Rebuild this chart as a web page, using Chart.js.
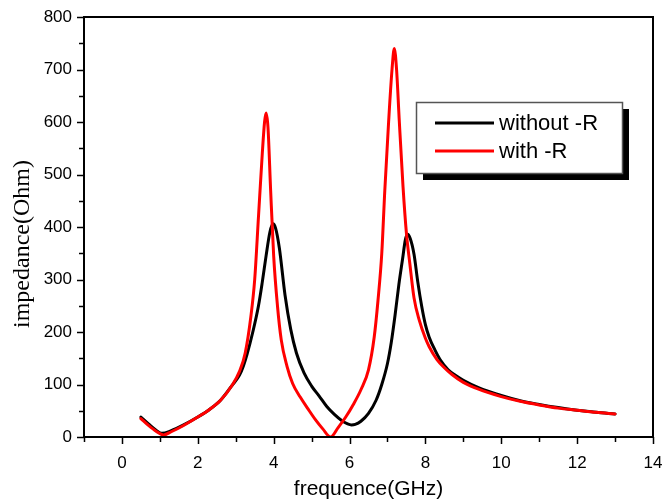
<!DOCTYPE html>
<html>
<head>
<meta charset="utf-8">
<script src="https://cdn.jsdelivr.net/npm/chart.js@4.4.1/dist/chart.umd.min.js"></script>
<style>
  html, body { margin: 0; padding: 0; background: #fff; }
  #wrap { width: 663px; height: 504px; }
</style>
</head>
<body>
<div id="wrap"><canvas id="c" width="663" height="504"></canvas></div>
<script>
// Impedance vs. frequency, two circuit variants
const seriesNames = ['without -R', 'with -R'];
const xTitle = 'frequence(GHz)';
const yTitle = 'impedance(Ohm)';

const freqWithout = [0.5, 0.7, 0.9, 1.05, 1.3, 1.6, 2.0, 2.3, 2.6, 2.9, 3.1, 3.2, 3.3, 3.45, 3.6, 3.7, 3.8, 3.9, 3.98,
  4.05, 4.15, 4.3, 4.45, 4.6, 4.8, 5.0, 5.2, 5.4, 5.6, 5.8, 5.95, 6.05, 6.15, 6.3, 6.5, 6.7, 6.85, 7.0, 7.1, 7.2,
  7.3, 7.4, 7.47, 7.53, 7.6, 7.7, 7.8, 7.9, 8.0, 8.1, 8.25, 8.4, 8.6, 8.8, 9.0, 9.4, 10.0, 10.5, 11.0, 11.5, 12.0,
  12.5, 13.0];
const impWithout = [38, 25, 13, 7, 12, 22, 38, 52, 70, 98, 118, 135, 158, 200, 250, 295, 345, 390, 406,
  398, 360, 270, 205, 160, 122, 97, 78, 58, 43, 31, 25, 23, 24, 30, 45, 70, 100, 140, 180, 232,
  290, 340, 375, 386, 378, 348, 295, 250, 214, 190, 166, 146, 128, 117, 108, 94, 79, 69, 62, 56, 51,
  47, 44];

const freqWith = [0.5, 0.7, 0.9, 1.1, 1.3, 1.6, 2.0, 2.3, 2.6, 2.9, 3.1, 3.25, 3.4, 3.5, 3.6, 3.7, 3.76, 3.8,
  3.85, 3.92, 4.0, 4.1, 4.2, 4.35, 4.5, 4.7, 4.9, 5.1, 5.3, 5.5, 5.7, 5.9, 6.1, 6.3, 6.5, 6.65, 6.75, 6.85,
  6.93, 7.03, 7.12, 7.18, 7.24, 7.31, 7.41, 7.5, 7.59, 7.7, 7.84, 8.0, 8.1, 8.3, 8.5, 8.7, 9.0, 9.4, 10.0,
  10.5, 11.0, 11.5, 12.0, 12.5, 13.0];
const impWith = [35, 22, 11, 4, 10, 21, 38, 52, 70, 98, 125, 160, 230, 300, 420, 540, 600, 617,
  590, 470, 345, 250, 185, 135, 102, 76, 54, 33, 15, 0, 18, 38, 62, 90, 128, 190, 260, 350,
  470, 600, 700, 740, 700, 604, 477, 388, 330, 265, 222, 188, 172, 148, 132, 119, 104, 91, 77,
  68, 61, 55, 51, 47, 44];

const xTickValues = [-1, 0, 1, 2, 3, 4, 5, 6, 7, 8, 9, 10, 11, 12, 13, 14];
const xTickLabels = ['', '0', '', '2', '', '4', '', '6', '', '8', '', '10', '', '12', '', '14'];
const yTickValues = [0, 50, 100, 150, 200, 250, 300, 350, 400, 450, 500, 550, 600, 650, 700, 750, 800];
const yTickLabels = ['0', '', '100', '', '200', '', '300', '', '400', '', '500', '', '600', '', '700', '', '800'];

const lineColors = ['#000000', '#ff0000'];
const sans = "'Liberation Sans', Arial, sans-serif";
const serif = "'Liberation Serif', 'Times New Roman', serif";

function toPoints(xs, ys) {
  return xs.map((x, i) => ({ x: x, y: ys[i] }));
}

// Frame, outward major/minor tick marks, the vertical axis title and the boxed legend
const framePlugin = {
  id: 'frame',
  afterDatasetsDraw(chart) {
    const ctx = chart.ctx;
    const a = chart.chartArea;
    const xs = chart.scales.x, ys = chart.scales.y;
    ctx.save();
    ctx.strokeStyle = '#000';
    ctx.lineWidth = 2;
    ctx.strokeRect(a.left, a.top, a.right - a.left, a.bottom - a.top);

    ctx.lineWidth = 1.5;
    ctx.beginPath();
    xTickValues.forEach((v, i) => {
      const px = Math.round(xs.getPixelForValue(v)) + 0.5;
      const len = xTickLabels[i] !== '' ? 7 : 5;
      ctx.moveTo(px, a.bottom);
      ctx.lineTo(px, a.bottom + len);
    });
    yTickValues.forEach((v, i) => {
      const py = Math.round(ys.getPixelForValue(v)) + 0.5;
      const len = yTickLabels[i] !== '' ? 7 : 5;
      ctx.moveTo(a.left, py);
      ctx.lineTo(a.left - len, py);
    });
    ctx.stroke();

    // vertical axis title
    ctx.save();
    ctx.translate(23, 244);
    ctx.rotate(-Math.PI / 2);
    ctx.font = '24px ' + serif;
    ctx.fillStyle = '#000';
    ctx.textAlign = 'center';
    ctx.textBaseline = 'middle';
    ctx.fillText(yTitle, 0, 0);
    ctx.restore();

    // legend
    const bx = 416, by = 102, bw = 206, bh = 71, sh = 7;
    ctx.fillStyle = '#000';
    ctx.fillRect(bx + sh, by + sh, bw, bh);
    ctx.fillStyle = '#fff';
    ctx.fillRect(bx, by, bw, bh);
    ctx.strokeStyle = '#555';
    ctx.lineWidth = 1.5;
    ctx.strokeRect(bx + 0.5, by + 0.5, bw, bh);

    const rows = [123, 151];
    ctx.font = '22px ' + sans;
    ctx.textBaseline = 'middle';
    ctx.textAlign = 'left';
    seriesNames.forEach((name, i) => {
      ctx.strokeStyle = lineColors[i];
      ctx.lineWidth = 3;
      ctx.beginPath();
      ctx.moveTo(435, rows[i]);
      ctx.lineTo(494, rows[i]);
      ctx.stroke();
      ctx.fillStyle = '#000';
      ctx.fillText(name, 499, rows[i] + 1);
    });
    ctx.restore();
  }
};

new Chart(document.getElementById('c'), {
  type: 'line',
  data: {
    datasets: [
      {
        label: seriesNames[1],
        data: toPoints(freqWith, impWith),
        borderColor: lineColors[1],
        order: 0
      },
      {
        label: seriesNames[0],
        data: toPoints(freqWithout, impWithout),
        borderColor: lineColors[0],
        order: 1
      }
    ]
  },
  options: {
    responsive: false,
    animation: false,
    devicePixelRatio: 1,
    layout: { padding: { left: 0, right: 10, top: 17, bottom: 0 } },
    elements: {
      point: { radius: 0 },
      line: { borderWidth: 3, cubicInterpolationMode: 'monotone', borderJoinStyle: 'round', borderCapStyle: 'round' }
    },
    plugins: {
      legend: { display: false },
      tooltip: { enabled: false }
    },
    scales: {
      x: {
        type: 'linear',
        min: -1,
        max: 14,
        afterBuildTicks: (s) => { s.ticks = xTickValues.map(v => ({ value: v })); },
        afterFit: (s) => { s.height = 67; s.paddingLeft = 0; s.paddingRight = 0; },
        grid: { display: false, drawTicks: false },
        border: { display: false },
        ticks: {
          autoSkip: false,
          maxRotation: 0,
          padding: 16,
          color: '#000',
          font: { family: sans, size: 17 },
          callback: (v, i) => xTickLabels[i]
        },
        title: {
          display: true,
          text: xTitle,
          color: '#000',
          font: { family: sans, size: 21 },
          padding: { top: 0, bottom: 2 }
        }
      },
      y: {
        type: 'linear',
        min: 0,
        max: 800,
        afterBuildTicks: (s) => { s.ticks = yTickValues.map(v => ({ value: v })); },
        afterFit: (s) => { s.width = 84; s.paddingTop = 0; s.paddingBottom = 0; },
        grid: { display: false, drawTicks: false },
        border: { display: false },
        ticks: {
          autoSkip: false,
          padding: 12,
          color: '#000',
          font: { family: sans, size: 17 },
          callback: (v, i) => yTickLabels[i]
        },
        title: { display: false }
      }
    }
  },
  plugins: [framePlugin]
});
</script>
</body>
</html>
